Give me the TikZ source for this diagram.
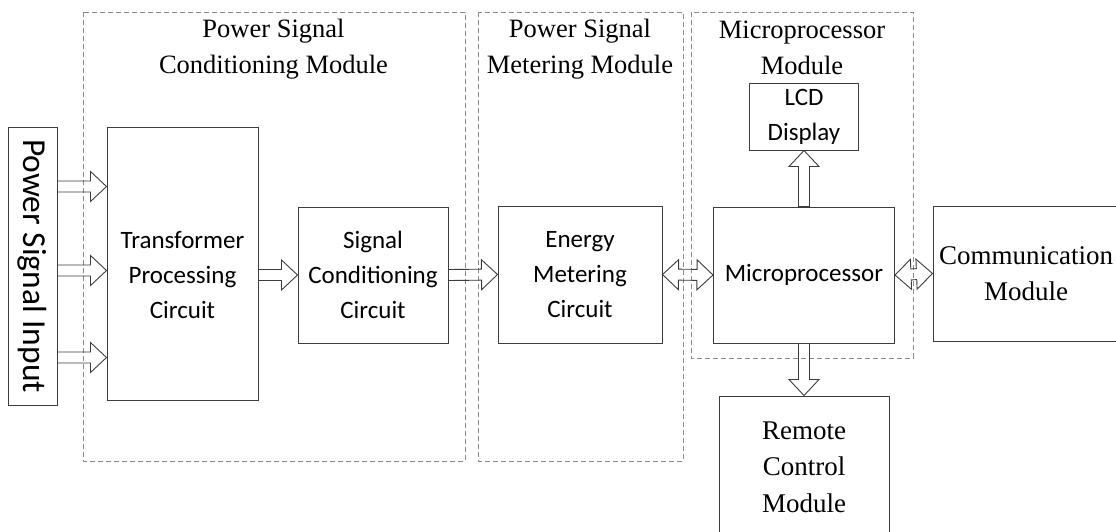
\documentclass[tikz,border=0pt]{standalone}
\usepackage{fontspec}
\usetikzlibrary{calc}
\newfontfamily\calfont{Carlito}
\newfontfamily\tmsfont{Liberation Serif}
\definecolor{boxc}{HTML}{3C3C3C}
\definecolor{dashc}{HTML}{8A8A8A}

% block-arrow dimensions: half shaft width, half head width, head length
\newcommand{\arrW}{5.5pt}
\newcommand{\arrH}{15pt}
\newcommand{\arrL}{16pt}

% hollow block arrow from #1 to #2
\newcommand{\blockarrow}[2]{%
  \draw[arr] ($(#1)!\arrW!90:(#2)$)
    -- ($(#2)!\arrL!(#1)!\arrW!-90:(#1)$)
    -- ($(#2)!\arrL!(#1)!\arrH!-90:(#1)$)
    -- (#2)
    -- ($(#2)!\arrL!(#1)!\arrH!90:(#1)$)
    -- ($(#2)!\arrL!(#1)!\arrW!90:(#1)$)
    -- ($(#1)!\arrW!-90:(#2)$) -- cycle;}

% hollow double-headed block arrow between #1 and #2
\newcommand{\dblockarrow}[2]{%
  \draw[arr] (#1)
    -- ($(#1)!\arrL!(#2)!\arrH!90:(#2)$)
    -- ($(#1)!\arrL!(#2)!\arrW!90:(#2)$)
    -- ($(#2)!\arrL!(#1)!\arrW!-90:(#1)$)
    -- ($(#2)!\arrL!(#1)!\arrH!-90:(#1)$)
    -- (#2)
    -- ($(#2)!\arrL!(#1)!\arrH!90:(#1)$)
    -- ($(#2)!\arrL!(#1)!\arrW!90:(#1)$)
    -- ($(#1)!\arrL!(#2)!\arrW!-90:(#2)$)
    -- ($(#1)!\arrL!(#2)!\arrH!-90:(#2)$)
    -- cycle;}

\tikzset{
  box/.style={draw=boxc, line width=1pt, inner sep=0pt, align=center,
    font={\calfont\fontsize{25}{35}\selectfont}},
  tbox/.style={box, font={\tmsfont\fontsize{27}{36.5}\selectfont}},
  modbox/.style={draw=dashc, line width=1pt, dash pattern=on 5pt off 3pt},
  title/.style={inner sep=0pt, align=center,
    font={\tmsfont\fontsize{26.5}{36}\selectfont}},
  arr/.style={draw=boxc, line width=0.9pt, line join=miter},
}

\begin{document}
\begin{tikzpicture}[x=1pt, y=-1pt]
\useasboundingbox (0,0) rectangle (1116,531);
\clip (0,0) rectangle (1116,531);

% module frames
\draw[modbox] (83,12) rectangle (465,461);
\draw[modbox] (478,12) rectangle (683,461);
\draw[modbox] (691,12) rectangle (913,358);

% module titles
\node[title] (t1) at (273.5,49) {Power Signal\\Conditioning Module};
\node[title] (t2) at (580,49) {Power Signal\\Metering Module};
\node[title] (t3) at (802,48) {Microprocessor\\Module};

% blocks
\node[box, minimum width=49, minimum height=278,
  label={[rotate=-90, inner sep=0pt, font={\calfont\fontsize{33.5}{38}\selectfont}]center:Power Signal Input}]
  (psi) at (32.5,266) {};
\node[box, minimum width=151, minimum height=273,
  label={[align=center, inner sep=0pt, yshift=-11.5pt, font={\calfont\fontsize{25}{35}\selectfont}]center:Transformer\\Processing\\Circuit}]
  (tr) at (182.5,263.5) {};
\node[box, minimum width=150, minimum height=136] (sc) at (373,275)
  {Signal\\Conditioning\\Circuit};
\node[box, minimum width=164, minimum height=137] (em) at (580,274.5)
  {Energy\\Metering\\Circuit};
\node[box, minimum width=181, minimum height=136] (mp) at (804,275)
  {Microprocessor};
\node[box, minimum width=109, minimum height=67] (lcd) at (804,116.5)
  {LCD\\Display};
\node[tbox, minimum width=186, minimum height=135] (cm) at (1026,273.5)
  {Communication\\Module};
\node[tbox, minimum width=170, minimum height=142] (rc) at (804,467)
  {Remote\\Control\\Module};

% input taps on the signal source
\coordinate (in1) at ($(psi.north east)+(0,60)$);
\coordinate (in2) at ($(psi.north east)+(0,144)$);
\coordinate (in3) at ($(psi.north east)+(0,231)$);
\coordinate (trin) at (tr.east |- sc.west);

% connectors
\blockarrow{in1}{tr.west |- in1}
\blockarrow{in2}{tr.west |- in2}
\blockarrow{in3}{tr.west |- in3}
\blockarrow{trin}{sc.west}
\blockarrow{sc.east}{em.west}
\dblockarrow{em.east}{mp.west}
\dblockarrow{mp.east}{cm.west}
\blockarrow{mp.north}{lcd.south}
\blockarrow{mp.south}{rc.north}
\end{tikzpicture}
\end{document}
